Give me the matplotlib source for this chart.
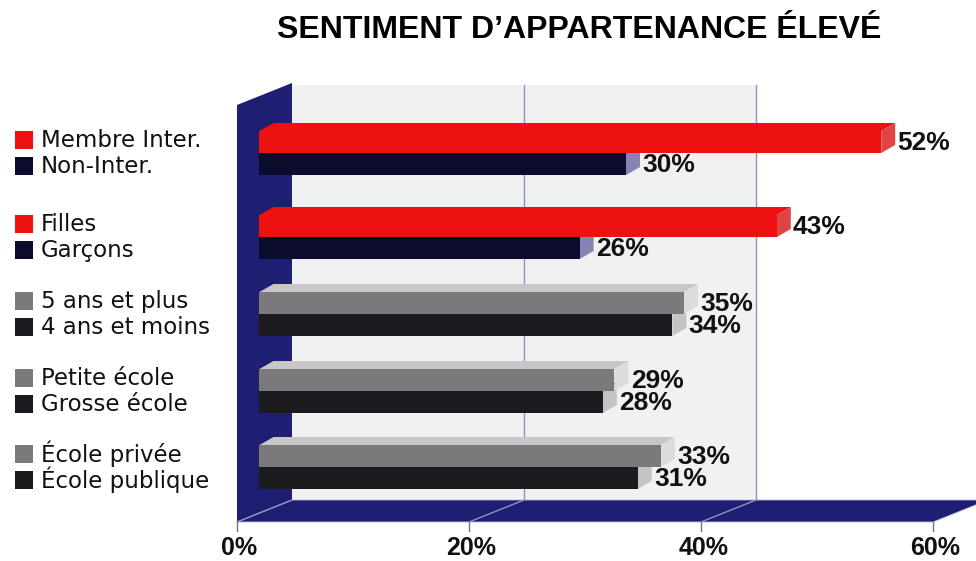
import matplotlib.pyplot as plt
from matplotlib.patches import Polygon, Rectangle

# data ---------------------------------------------------------------
upper_labels = ["Membre Inter.", "Filles", "5 ans et plus", "Petite école", "École privée"]
lower_labels = ["Non-Inter.", "Garçons", "4 ans et moins", "Grosse école", "École publique"]
upper_vals = [52, 43, 35, 29, 33]
lower_vals = [30, 26, 34, 28, 31]
ticks = [0, 20, 40, 60]

# styles -------------------------------------------------------------
upper_cols = ["#ee1111", "#ee1111", "#7c797d", "#7c797d", "#7c797d"]
lower_cols = ["#0b0b2e", "#0b0b2e", "#1b1a1e", "#1b1a1e", "#1b1a1e"]
upper_top = ["#ee1111", "#ee1111", "#c9c6ca", "#c9c6ca", "#c9c6ca"]
upper_end = ["#e04545", "#e04545", "#dcdcdc", "#dcdcdc", "#dcdcdc"]
lower_end = ["#8585b5", "#8585b5", "#c4c4c4", "#c4c4c4", "#c4c4c4"]
navy = "#1e1f72"
grid_col = "#9090c4"

# layout: x axis in percent (back plane), y axis in pixel rows
PX = 11.6           # pixels per percent
X0 = 292            # pixel of 0% on back plane
def X(p):
    return (p - X0) / PX

D_DX = -55 / PX     # depth offset of wall / floor front edge
D_DY = 22
B_DX = 14 / PX      # bar depth
B_DY = 8
bar_start = -1.6
row_top = [131, 215, 292, 369, 445]
bar_h = 22
floor_back, floor_front = 500, 522
wall_top = 83

fig = plt.figure(figsize=(9.76, 5.61), dpi=100)
ax = fig.add_axes([0, 0, 1, 1])
ax.set_xlim(X(0), X(976))
ax.set_ylim(561, 0)
ax.axis('off')

# back panel + gridlines
ax.add_patch(Rectangle((0, wall_top + 2), 40, floor_back - wall_top - 2,
                       facecolor="#f1f1f1", edgecolor="none", zorder=0))
for t in ticks[1:3]:
    ax.plot([t, t], [wall_top + 2, floor_back], color=grid_col, lw=1, zorder=1)

# wall
ax.add_patch(Polygon([(D_DX, wall_top + D_DY), (0, wall_top), (0, floor_back),
                      (D_DX, floor_front)], closed=True, facecolor=navy,
                     edgecolor="none", zorder=2))
# floor
ax.add_patch(Polygon([(D_DX, floor_front), (60 + D_DX, floor_front),
                      (60, floor_back), (0, floor_back)], closed=True,
                     facecolor=navy, edgecolor="#b8b8e0", lw=0.6, zorder=2))
for t in ticks[:3]:
    ax.plot([t + D_DX, t], [floor_front, floor_back], color=grid_col, lw=1, zorder=3)
for t in ticks:
    ax.plot([t + D_DX, t + D_DX], [floor_front, floor_front + 9], color="#777777",
            lw=1, zorder=3)
    ax.text(t + D_DX + 0.2, 548, f"{t}%", ha='center', va='center', fontsize=18,
            fontweight='bold', family='Liberation Sans', color="#111111")


def bar3d(v, ytop, front, top, end, z):
    xr = v - B_DX
    ybot = ytop + bar_h
    ax.add_patch(Polygon([(bar_start - B_DX, ytop), (bar_start, ytop - B_DY),
                          (v, ytop - B_DY), (xr, ytop)], closed=True,
                         facecolor=top, edgecolor="none", zorder=z))
    ax.add_patch(Polygon([(xr, ytop), (v, ytop - B_DY), (v, ybot - B_DY),
                          (xr, ybot)], closed=True, facecolor=end,
                         edgecolor="none", zorder=z))
    ax.add_patch(Rectangle((bar_start - B_DX, ytop), xr - bar_start + B_DX, bar_h,
                           facecolor=front, edgecolor="none", zorder=z))
    ax.text(v + 0.2, ytop + bar_h / 2 + 1, f"{v}%", ha='left', va='center',
            fontsize=19, fontweight='bold', family='Liberation Sans',
            color="#111111", zorder=10)


for i in range(len(upper_vals)):
    y = row_top[i]
    bar3d(lower_vals[i], y + bar_h, lower_cols[i], lower_cols[i], lower_end[i], 4)
    bar3d(upper_vals[i], y, upper_cols[i], upper_top[i], upper_end[i], 5)

    # legend on the left
    for lab, col, yc in [(upper_labels[i], upper_cols[i], y + bar_h / 2 - 2),
                         (lower_labels[i], lower_cols[i], y + bar_h * 1.5 + 2)]:
        ax.add_patch(Rectangle((X(15), yc - 9), 18 / PX, 18, facecolor=col,
                               edgecolor="none", zorder=5))
        ax.text(X(41), yc, lab, ha='left', va='center', fontsize=16.5,
                family='DejaVu Sans', color="#111111")

fig.text(579 / 976, 1 - 30 / 561, "SENTIMENT D’APPARTENANCE ÉLEVÉ", ha='center',
         va='center', fontsize=23, fontweight='bold', family='Liberation Sans')

fig.savefig("out.png", dpi=100)
